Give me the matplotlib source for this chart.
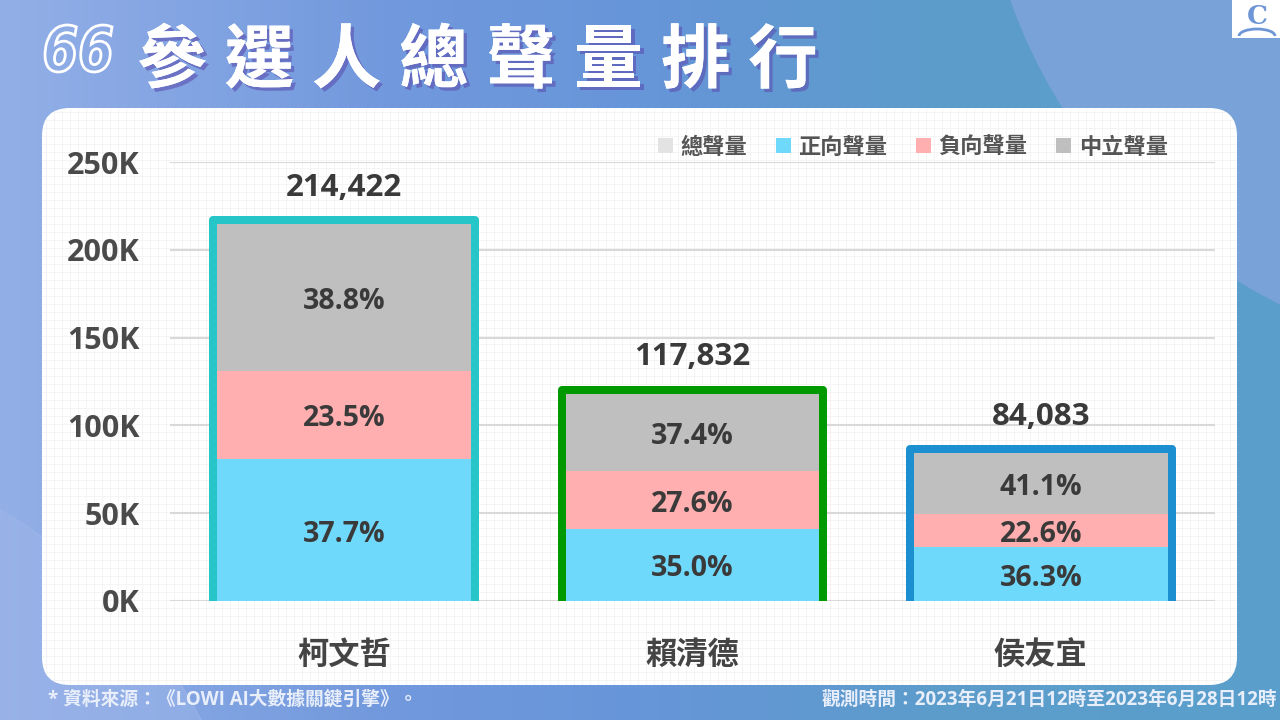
import matplotlib
matplotlib.use('Agg')
import matplotlib.pyplot as plt
import numpy as np
from matplotlib.patches import FancyBboxPatch, Rectangle, Circle, Patch, Arc, PathPatch
from matplotlib.collections import LineCollection
from matplotlib.textpath import TextPath
from matplotlib.font_manager import FontProperties
from matplotlib.transforms import Affine2D
import matplotlib.patheffects as pe
from matplotlib.colors import to_rgb

# ---------------- data ----------------
candidates = ['柯文哲', '賴清德', '侯友宜']
totals = [214422, 117832, 84083]
pos_pct = [37.7, 35.0, 36.3]
neg_pct = [23.5, 27.6, 22.6]
neu_pct = [38.8, 37.4, 41.1]
yticks = [0, 50000, 100000, 150000, 200000, 250000]
ytick_labels = ['0K', '50K', '100K', '150K', '200K', '250K']
legend_labels = ['總聲量', '正向聲量', '負向聲量', '中立聲量']
title = '參選人總聲量排行'
source_text = '* 資料來源：《LOWI AI大數據關鍵引擎》。'
period_text = '觀測時間：2023年6月21日12時至2023年6月28日12時'

# ---------------- style ----------------
FONT = ['Open Sans', 'Noto Sans CJK TC', 'DejaVu Sans']
plt.rcParams['font.family'] = FONT
plt.rcParams['font.weight'] = 'bold'

C_TOTAL = '#E3E3E3'
C_POS = '#6FD9FC'
C_NEG = '#FFAFAF'
C_NEU = '#BFBFBF'
border_colors = ['#26C5C8', '#009A00', '#1B8FCF']
TXT = '#3A3A3A'

W, H = 1280, 720
fig = plt.figure(figsize=(12.8, 7.2), dpi=100)

# ---------------- background ----------------
bg = fig.add_axes([0, 0, 1, 1])
bg.set_xlim(0, W)
bg.set_ylim(H, 0)
bg.axis('off')

stops_x = [0.0, 0.3, 0.5, 0.72, 1.0]
stops_c = [to_rgb(c) for c in ['#93AFE7', '#7299DD', '#6795D9', '#5C9CCB', '#5A9FCB']]
xs = np.linspace(0, 1, W)
grad = np.zeros((H, W, 3))
for k in range(3):
    grad[:, :, k] = np.interp(xs, stops_x, [c[k] for c in stops_c])[None, :]
bg.imshow(grad, extent=(0, W, H, 0), aspect='auto', zorder=0)
bg.add_patch(Circle((1520, -180), 540, color='#79A2D8', zorder=1))
bg.add_patch(Circle((-260, 960), 520, color='#A0B8EA', alpha=0.45, zorder=1))

panel = FancyBboxPatch((42, 108), 1195, 577, boxstyle='round,pad=0,rounding_size=28',
                       fc='white', ec='none', zorder=2)
bg.add_patch(panel)
segs = [[(x, 108), (x, 685)] for x in range(46, 1237, 8)] + \
       [[(42, y), (1237, y)] for y in range(112, 685, 8)]
lc = LineCollection(segs, colors='#F3F3F3', linewidths=0.6, zorder=3)
lc.set_clip_path(panel)
bg.add_collection(lc)

# logo
bg.add_patch(Rectangle((1232, 0), 48, 38, fc='white', ec='none', zorder=4))
bg.text(1257, 16, 'C', ha='center', va='center', fontsize=19, color='#6E96D6',
        family='DejaVu Serif', weight='bold', zorder=5)
bg.add_patch(Arc((1257, 36), 36, 14, theta1=180, theta2=360, color='#6E96D6', lw=2, zorder=5))

# decorative opening quote mark (outlined shape)
qpath = TextPath((0, 0), '66', size=1,
                 prop=FontProperties(family='DejaVu Sans', weight='bold', style='oblique'))
ext = qpath.get_extents()
sx = (112 - 45) / ext.width
sy = (72 - 25) / ext.height
tr = Affine2D().translate(-ext.x0, -ext.y1).scale(sx, -sy).translate(45, 25)
bg.add_patch(PathPatch(tr.transform_path(qpath), fc='none', ec='white', lw=2.0, zorder=5))

# ---------------- title ----------------
for i, ch in enumerate(title):
    fig.text((172 + i * 87.3) / W, 1 - 62 / H, ch, ha='center', va='center',
             fontsize=50, color='white', family=['Noto Sans CJK TC'], weight=900,
             path_effects=[pe.withSimplePatchShadow(offset=(2.5, -2.5),
                                                    shadow_rgbFace='#5B50B0', alpha=0.6),
                           pe.Normal()])

# ---------------- chart ----------------
ax = fig.add_axes([170 / W, 1 - 601 / H, 1045 / W, 439 / H])
ax.patch.set_alpha(0)
ax.set_xlim(-0.5, 2.5)
ax.set_ylim(0, 250000)
for s in ax.spines.values():
    s.set_visible(False)
for y in yticks:
    ax.axhline(y, color='#D9D9D9', lw=1.5, zorder=0)

x = np.arange(len(candidates))
tot = np.array(totals, dtype=float)
pos_v = tot * np.array(pos_pct) / 100
neg_v = tot * np.array(neg_pct) / 100
neu_v = tot * np.array(neu_pct) / 100

bw = 0.729
ax.bar(x, pos_v, width=bw, color=C_POS, zorder=2)
ax.bar(x, neg_v, bottom=pos_v, width=bw, color=C_NEG, zorder=2)
ax.bar(x, neu_v, bottom=pos_v + neg_v, width=bw, color=C_NEU, zorder=2)

px = 250000 / 439
ax.bar(x, tot + 4 * px + 20000, bottom=-20000, width=bw + 8 / 348.33, fill=False,
       edgecolor=border_colors, linewidth=5.76, joinstyle='round', zorder=3)

for xi, t in zip(x, totals):
    ax.annotate(f'{t:,}', (xi, t), xytext=(0, 26.5), textcoords='offset points',
                ha='center', va='center', fontsize=22.5, color=TXT, annotation_clip=False)

def pct_label(xi, yv, val):
    ax.annotate(f'{val:.1f}%', (xi, yv), xytext=(0, -3), textcoords='offset points',
                ha='center', va='center', fontsize=20.5, color=TXT, zorder=4)

for xi, p, n, u, pv, nv, uv in zip(x, pos_pct, neg_pct, neu_pct, pos_v, neg_v, neu_v):
    pct_label(xi, pv / 2, p)
    pct_label(xi, pv + nv / 2, n)
    pct_label(xi, pv + nv + uv / 2, u)

ax.set_xticks(x, candidates)
ax.set_yticks(yticks, ytick_labels)
ax.tick_params(axis='x', length=0, pad=29, labelsize=22.5, labelcolor='#444444')
ax.tick_params(axis='y', length=0, pad=22, labelsize=22, labelcolor='#4A4A4A')

handles = [Patch(fc=c, ec='none') for c in [C_TOTAL, C_POS, C_NEG, C_NEU]]
fig.legend(handles, legend_labels, loc='center', bbox_to_anchor=(913 / W, 1 - 148 / H),
           ncol=4, frameon=False, prop={'family': FONT, 'weight': 'bold', 'size': 16},
           handlelength=0.65, handleheight=0.65, handletextpad=0.35, columnspacing=1.3,
           labelcolor='#555555')

# ---------------- footer ----------------
fig.text(48 / W, 1 - 700 / H, source_text, ha='left', va='center', fontsize=13.5,
         color='#E8EEFA')
fig.text(1277 / W, 1 - 700 / H, period_text, ha='right', va='center', fontsize=13.5,
         color='#E8EEFA')

fig.savefig('out.png', dpi=100)
